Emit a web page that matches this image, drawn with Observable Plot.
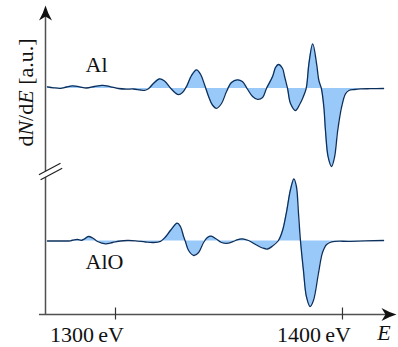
<!DOCTYPE html>
<html>
<head>
<meta charset="utf-8">
<script src="https://cdn.jsdelivr.net/npm/d3@7"></script>
<script src="https://cdn.jsdelivr.net/npm/@observablehq/plot@0.6"></script>
<style>
  html, body { margin: 0; padding: 0; background: #fff; font-family: "Liberation Serif", "Times New Roman", Tinos, serif; }
  body { position: relative; width: 398px; height: 347px; }
  svg { display: block; }
  svg text { font-family: "Liberation Serif", "Times New Roman", Tinos, serif; }
  #ytitle { position: absolute; left: 0; top: 0; overflow: visible; pointer-events: none; }
  #xtitle { position: absolute; left: 372px; top: 320px; width: 24px; text-align: center;
            font-style: italic; font-size: 22px; line-height: 25px; color: #111; }
</style>
</head>
<body>
<div id="chart"></div>
<svg id="ytitle" width="45" height="200">
  <text transform="translate(33,92.5) rotate(-90)" text-anchor="middle" font-family="Liberation Serif, Times New Roman, serif" font-size="22" fill="#111">d<tspan font-style="italic">N</tspan>/d<tspan font-style="italic">E</tspan> [a.u.]</text>
</svg>
<div id="xtitle">E</div>
<script>
// Auger spectra (derivative mode) of Al and AlO, energies in eV, signal in a.u.
const alEnergy = [1270.0, 1272.7, 1275.8, 1278.4, 1281.1, 1284.1, 1287.2, 1290.7, 1294.3, 1297.8,
  1301.3, 1304.8, 1307.9, 1311.0, 1312.8, 1314.5, 1316.7, 1319.4, 1321.6, 1324.2,
  1326.4, 1327.8, 1329.5, 1331.3, 1333.5, 1335.7, 1337.4, 1339.2, 1341.0, 1342.7,
  1344.5, 1346.7, 1348.9, 1351.1, 1353.7, 1355.9, 1358.1, 1360.4, 1362.6, 1364.8,
  1366.5, 1369.2, 1370.5, 1371.8, 1373.6, 1374.5, 1375.8, 1377.1, 1379.3, 1381.1,
  1382.4, 1384.0, 1384.5, 1385.2, 1386.9, 1388.6, 1389.6, 1390.7, 1391.8, 1392.5,
  1393.7, 1395.2, 1396.5, 1397.9, 1399.6, 1401.3, 1402.8, 1405.3, 1407.9, 1412.3,
  1418.1];
const alSignal = [0.17, 0.07, 0.02, 0.15, 0.27, 0.17, 0.05, 0.20, 0.32, 0.17,
  0.00, -0.06, -0.05, -0.15, -0.18, -0.03, 0.50, 0.97, 0.75, 0.05,
  -0.45, -0.62, -0.40, 0.20, 1.30, 1.87, 1.45, 0.40, -0.80, -1.65,
  -1.98, -1.50, -0.30, 0.60, 0.87, 0.70, -0.05, -0.80, -1.08, -0.90,
  0.00, 1.20, 2.10, 2.40, 2.00, 1.20, 0.00, -1.50, -2.20, -1.60,
  -1.00, 0.00, 0.80, 2.47, 4.47, 2.47, 0.80, 0.00, -1.87, -4.20,
  -6.87, -7.80, -6.87, -4.20, -1.87, -0.53, -0.20, -0.10, -0.04, -0.02,
  0.00];

const aloEnergy = [1270.0, 1275.8, 1280.2, 1281.9, 1283.3, 1285.0, 1286.3, 1288.1, 1289.9, 1292.1,
  1295.6, 1298.7, 1302.2, 1305.3, 1308.8, 1313.2, 1316.7, 1319.8, 1322.0, 1324.2,
  1327.2, 1328.6, 1330.0, 1330.8, 1332.2, 1334.5, 1336.6, 1338.8, 1340.5, 1342.2,
  1344.1, 1346.7, 1349.8, 1352.9, 1355.8, 1358.6, 1362.1, 1364.8, 1367.0, 1369.2,
  1371.8, 1373.6, 1375.3, 1377.1, 1378.6, 1379.7, 1380.6, 1381.5, 1382.8, 1384.1,
  1385.7, 1387.2, 1389.4, 1391.2, 1393.0, 1395.2, 1403.5, 1418.1];
const aloSignal = [0.00, 0.00, 0.02, 0.12, 0.15, 0.07, 0.20, 0.45, 0.30, -0.05,
  -0.28, -0.15, 0.00, 0.05, 0.02, -0.10, -0.15, -0.03, 0.40, 1.05,
  1.78, 1.45, 0.45, -0.05, -0.95, -1.45, -1.15, -0.15, 0.35, 0.48,
  0.25, -0.15, -0.22, 0.05, 0.22, 0.05, -0.40, -0.70, -0.80, -0.50,
  0.05, 1.05, 2.85, 5.15, 6.22, 5.45, 2.85, 0.00, -2.95, -5.55,
  -6.55, -5.95, -3.25, -1.15, -0.35, -0.08, -0.03, 0.05];

// vertical offset of each spectrum on the stacked axis
const alOffset = 15.25;
const aloOffset = 0;

const seriesNames = ["Al", "AlO"];
const tickValues = [1300, 1400];
const tickUnit = "\u2009eV";

const xDomain = [1269.16, 1423.8];
const yDomain = [-7.35, 23.55];
const xAxisStart = 1266.5;
const yBreak = 6.95;

const serif = "Liberation Serif, Times New Roman, Tinos, serif";
const lineColor = "#0c2f5c";
const fillColor = "#98c9f8";
const axisColor = "#505050";
const curve = "catmull-rom";

// resolve the serif face before anything is laid out
const measure = document.createElement("canvas").getContext("2d");
["22px", "italic 22px"].forEach(f => {
  measure.font = `${f} "Liberation Serif"`;
  measure.measureText("1300 eV AlO dN/dE [a.u.]");
});
if (document.fonts && document.fonts.load) {
  document.fonts.load('22px "Liberation Serif"');
  document.fonts.load('italic 22px "Liberation Serif"');
}

const al = alEnergy.map((E, i) => ({E, v: alSignal[i] + alOffset}));
const alo = aloEnergy.map((E, i) => ({E, v: aloSignal[i] + aloOffset}));

// arrow head pointing along +x, tip at the origin
const arrowHead = {
  draw(ctx) {
    ctx.moveTo(0, 0);
    ctx.quadraticCurveTo(-7, -2, -15, -6.5);
    ctx.lineTo(-11, 0);
    ctx.lineTo(-15, 6.5);
    ctx.quadraticCurveTo(-7, 2, 0, 0);
    ctx.closePath();
  }
};
const tickMark = { draw(ctx) { ctx.moveTo(0, -7); ctx.lineTo(0, 5); } };
// the two slanted strokes of the axis break, and the gap they enclose
const breakMask = {
  draw(ctx) {
    ctx.moveTo(-6.6, 3.3); ctx.lineTo(15, -8.3); ctx.lineTo(16.7, -3.3); ctx.lineTo(-4.9, 8.3); ctx.closePath();
  }
};
const breakLines = {
  draw(ctx) {
    ctx.moveTo(-6.6, 3.3); ctx.lineTo(15, -8.3);
    ctx.moveTo(-4.9, 8.3); ctx.lineTo(16.7, -3.3);
  }
};

const textStyle = {fontFamily: serif, fontSize: 22, fill: "#111"};

const plot = Plot.plot({
  width: 398,
  height: 347,
  marginLeft: 45,
  marginRight: 2,
  marginTop: 5,
  marginBottom: 33,
  x: {domain: xDomain, axis: null},
  y: {domain: yDomain, axis: null},
  style: {background: "#fff", overflow: "visible"},
  marks: [
    // filled deviations from each baseline
    Plot.areaY(al, {x: "E", y1: () => alOffset, y2: "v", curve, fill: fillColor}),
    Plot.areaY(alo, {x: "E", y1: () => aloOffset, y2: "v", curve, fill: fillColor}),
    Plot.lineY(al, {x: "E", y: "v", curve, stroke: lineColor, strokeWidth: 1.3}),
    Plot.lineY(alo, {x: "E", y: "v", curve, stroke: lineColor, strokeWidth: 1.3}),

    // axes with arrow heads, ticks and the break on the vertical axis
    Plot.ruleY([yDomain[0]], {x1: () => xAxisStart, x2: () => xDomain[1] - 4, stroke: axisColor, strokeWidth: 1.5}),
    Plot.ruleX([xDomain[0]], {y1: () => yDomain[0], y2: () => yDomain[1] - 0.4, stroke: axisColor, strokeWidth: 1.5, insetBottom: -2}),
    Plot.dot([0], {x: () => xDomain[1], y: () => yDomain[0], symbol: arrowHead, fill: "#111", stroke: "none"}),
    Plot.dot([0], {x: () => xDomain[0], y: () => yDomain[1], symbol: arrowHead, rotate: -90, fill: "#111", stroke: "none"}),
    Plot.dot([0], {x: () => xDomain[0], y: () => yBreak, symbol: breakMask, fill: "#fff", stroke: "none"}),
    Plot.dot([0], {x: () => xDomain[0], y: () => yBreak, symbol: breakLines, fill: "none", stroke: "#222", strokeWidth: 1.2}),
    Plot.dot(tickValues, {x: d => d, y: () => yDomain[0], symbol: tickMark, fill: "none", stroke: "#333", strokeWidth: 1.2}),

    // tick labels
    Plot.text(tickValues, {x: d => d, y: () => yDomain[0], text: d => `${d}${tickUnit}`, textAnchor: "end", dx: 8.5, dy: 20, ...textStyle}),

    // series names
    Plot.text([seriesNames[0]], {x: () => 1286.8, y: () => alOffset + 2.4, text: d => d, textAnchor: "start", ...textStyle}),
    Plot.text([seriesNames[1]], {x: () => 1286.8, y: () => aloOffset - 2.05, text: d => d, textAnchor: "start", ...textStyle})
  ]
});

const root = d3.select(plot).attr("font-family", serif).attr("font-size", 22);
root.selectAll("text").attr("font-family", serif);

document.getElementById("chart").appendChild(plot);

// lay the labels out again once the face is ready
if (document.fonts && document.fonts.ready) {
  document.fonts.ready.then(() => {
    root.attr("font-family", serif);
    document.body.offsetWidth;
  });
}
</script>
</body>
</html>
